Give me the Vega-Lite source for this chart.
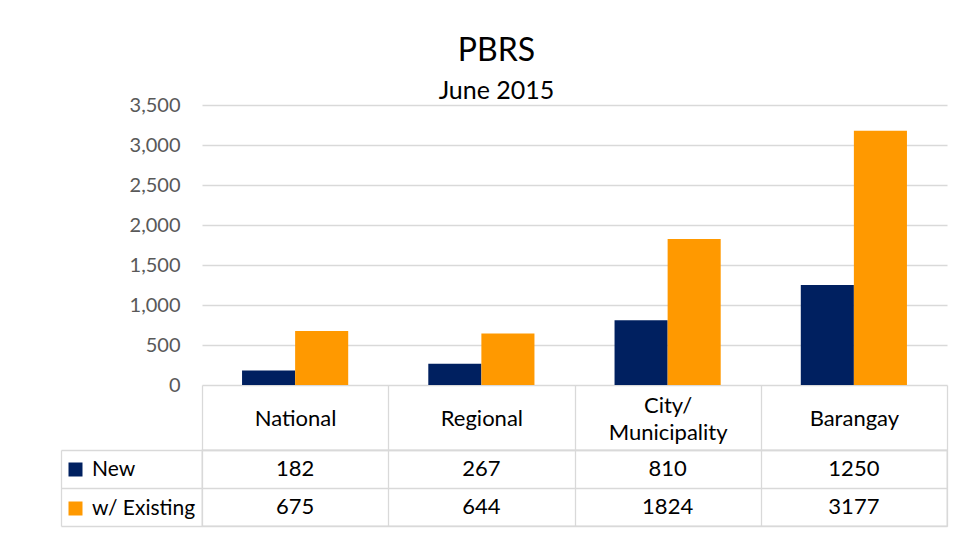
{
  "$schema": "https://vega.github.io/schema/vega-lite/v6.json",
  "padding": {"left": 59, "top": 35, "right": 5, "bottom": 5},
  "background": "white",
  "bounds": "flush",
  "spacing": 65,
  "config": {
    "font": "Lato, sans-serif",
    "view": {"stroke": null}
  },
  "resolve": {"scale": {"color": "independent"}, "legend": {"color": "independent"}},
  "datasets": {
    "pbrs": [
      {"category": "National", "series": "New", "value": 182},
      {"category": "National", "series": "w/ Existing", "value": 675},
      {"category": "Regional", "series": "New", "value": 267},
      {"category": "Regional", "series": "w/ Existing", "value": 644},
      {"category": "City/ Municipality", "series": "New", "value": 810},
      {"category": "City/ Municipality", "series": "w/ Existing", "value": 1824},
      {"category": "Barangay", "series": "New", "value": 1250},
      {"category": "Barangay", "series": "w/ Existing", "value": 3177}
    ]
  },
  "vconcat": [
    {
      "width": 745,
      "height": 280,
      "title": {
        "text": "PBRS",
        "subtitle": "June 2015",
        "anchor": "middle",
        "frame": "group",
        "dx": -78,
        "fontSize": 32,
        "fontWeight": "normal",
        "color": "#000000",
        "subtitleFontSize": 25,
        "subtitleColor": "#000000",
        "subtitlePadding": 11,
        "offset": -10
      },
      "data": {"name": "pbrs"},
      "mark": {"type": "bar"},
      "encoding": {
        "x": {
          "field": "category",
          "type": "nominal",
          "sort": ["National", "Regional", "City/ Municipality", "Barangay"],
          "scale": {"paddingInner": 0.43, "paddingOuter": 0.215},
          "axis": null
        },
        "xOffset": {"field": "series", "type": "nominal", "sort": ["New", "w/ Existing"]},
        "y": {
          "field": "value",
          "type": "quantitative",
          "scale": {"domain": [0, 3500]},
          "axis": {
            "title": null,
            "values": [0, 500, 1000, 1500, 2000, 2500, 3000, 3500],
            "format": ",.0f",
            "domain": false,
            "ticks": false,
            "labelFontSize": 20,
            "labelColor": "#595959",
            "labelPadding": 22,
            "gridColor": "#d9d9d9",
            "gridWidth": 1.3
          }
        },
        "color": {
          "field": "series",
          "type": "nominal",
          "scale": {"domain": ["New", "w/ Existing"], "range": ["#002060", "#FF9900"]},
          "legend": {
            "title": null,
            "orient": "none",
            "legendX": -137,
            "legendY": 354,
            "symbolType": "square",
            "symbolSize": 196,
            "symbolStrokeWidth": 0,
            "symbolOpacity": 1,
            "labelFontSize": 21,
            "labelColor": "#000000",
            "labelOffset": 6,
            "labelLimit": 200,
            "rowPadding": 17
          }
        }
      }
    },
    {
      "width": 745,
      "height": 76,
      "data": {"name": "pbrs"},
      "view": {"stroke": "#d9d9d9", "strokeWidth": 1.3},
      "mark": {"type": "text", "fontSize": 22, "color": "#000000"},
      "encoding": {
        "x": {
          "field": "category",
          "type": "nominal",
          "sort": ["National", "Regional", "City/ Municipality", "Barangay"],
          "scale": {"paddingInner": 0, "paddingOuter": 0},
          "axis": {
            "orient": "top",
            "title": null,
            "labelAngle": 0,
            "labelFontSize": 22,
            "labelColor": "#000000",
            "labelExpr": "split(datum.label, ' ')",
            "labelLineHeight": 27,
            "labelBaseline": "middle",
            "labelPadding": {"condition": {"test": "datum.value == 'City/ Municipality'", "value": -20}, "value": -33},
            "tickBand": "extent",
            "tickSize": 65,
            "tickColor": "#d9d9d9",
            "tickWidth": 1.3,
            "domainColor": "#d9d9d9",
            "domainWidth": 1.3,
            "grid": true,
            "gridColor": "#d9d9d9",
            "gridWidth": 1.3
          }
        },
        "y": {
          "field": "series",
          "type": "nominal",
          "sort": ["New", "w/ Existing"],
          "scale": {"paddingInner": 0, "paddingOuter": 0},
          "axis": {
            "title": null,
            "labels": false,
            "offset": 141,
            "tickBand": "extent",
            "tickSize": -141,
            "tickColor": "#d9d9d9",
            "tickWidth": 1.3,
            "domainColor": "#d9d9d9",
            "domainWidth": 1.3,
            "grid": true,
            "gridColor": "#d9d9d9",
            "gridWidth": 1.3
          }
        },
        "text": {"field": "value", "type": "quantitative", "format": "d"}
      }
    }
  ]
}
